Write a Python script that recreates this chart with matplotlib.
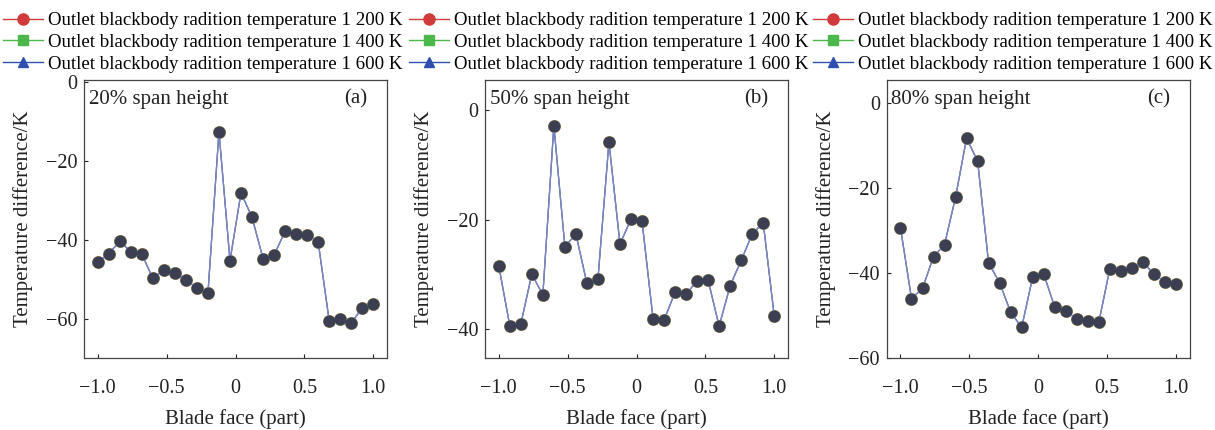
import matplotlib
matplotlib.use("Agg")
import matplotlib.pyplot as plt
from matplotlib.lines import Line2D
import numpy as np

plt.rcParams['font.family'] = ['Liberation Serif', 'DejaVu Serif']
plt.rcParams['axes.unicode_minus'] = True

blade_face = [-1.0, -0.92, -0.84, -0.76, -0.68, -0.60, -0.52, -0.44, -0.36, -0.28,
              -0.20, -0.12, -0.04, 0.04, 0.12, 0.20, 0.28, 0.36, 0.44, 0.52,
              0.60, 0.68, 0.76, 0.84, 0.92, 1.0]

span20 = [-45.7, -43.5, -40.4, -43.1, -43.7, -49.8, -47.7, -48.4, -50.3, -52.2,
          -53.5, -12.6, -45.3, -28.1, -34.3, -44.8, -43.9, -37.9, -38.5, -38.8,
          -40.5, -60.5, -60.0, -61.1, -57.4, -56.4]
span50 = [-28.4, -39.3, -39.0, -29.9, -33.7, -2.8, -24.9, -22.6, -31.6, -30.8,
          -5.8, -24.4, -19.9, -20.2, -38.0, -38.3, -33.2, -33.6, -31.1, -31.0,
          -39.4, -32.0, -27.4, -22.6, -20.5, -37.5]
span80 = [-29.3, -46.0, -43.6, -36.1, -33.3, -22.1, -8.2, -13.6, -37.6, -42.3,
          -49.2, -52.8, -40.9, -40.2, -48.0, -48.9, -50.8, -51.2, -51.6, -39.0,
          -39.5, -38.8, -37.3, -40.3, -42.0, -42.6]

series_labels = ["Outlet blackbody radition temperature 1 200 K",
                 "Outlet blackbody radition temperature 1 400 K",
                 "Outlet blackbody radition temperature 1 600 K"]
panel_titles = ["20% span height", "50% span height", "80% span height"]
panel_tags = ["(a)", "(b)", "(c)"]
yticks_list = [[0, -20, -40, -60], [0, -20, -40], [0, -20, -40, -60]]
ylims = [(-70, 0.5), (-45.2, 5.5), (-60, 5.5)]
xticks = [-1.0, -0.5, 0, 0.5, 1.0]
xtick_labels = ["\u22121.0", "\u22120.5", "0", "0.5", "1.0"]

data = [span20, span50, span80]
series_colors = ['#d03a3a', '#4cb84c', '#3050b0']
legend_markers = ['o', 's', '^']

fig = plt.figure(figsize=(12.15, 4.3), dpi=100)
lefts = [84 / 1215, 485 / 1215, 886.7 / 1215]
bottom = 1 - 358 / 430
height = (358 - 80) / 430
width = 303 / 1215

for i in range(3):
    ax = fig.add_axes([lefts[i], bottom, width, height])
    y = data[i]
    # three coincident series
    ax.plot(blade_face, y, color='#7080b8', lw=0.9, marker='o', ms=8.2,
            mfc=series_colors[0], mec=series_colors[0], zorder=2)
    ax.plot(blade_face, y, color='#7080b8', lw=0.9, marker='o', ms=7.8,
            mfc=series_colors[1], mec=series_colors[1], zorder=3)
    ax.plot(blade_face, y, color='#7a86bc', lw=0.9, marker='o', ms=7.8,
            mfc='#3e3e52', mec='#30385a', mew=0.6, zorder=4)
    ax.set_xlim(-1.1, 1.1)
    ax.set_ylim(*ylims[i])
    ax.set_xticks(xticks)
    ax.set_xticklabels(xtick_labels)
    ax.set_yticks(yticks_list[i])
    ax.set_yticklabels([("\u2212%d" % abs(t)) if t < 0 else str(t) for t in yticks_list[i]])
    ax.tick_params(direction='in', length=3, width=0.8, labelsize=14.5,
                   colors='#222222', top=False, right=False)
    ax.tick_params(axis='x', pad=15)
    ax.tick_params(axis='y', pad=5)
    for s in ax.spines.values():
        s.set_color('#444444')
        s.set_linewidth(0.9)
    ax.set_xlabel("Blade face (part)", fontsize=15, labelpad=8, color='#222222')
    ax.set_ylabel("Temperature difference/K", fontsize=15, labelpad=9, color='#222222')
    ax.text(0.015, 0.965, panel_titles[i], transform=ax.transAxes, fontsize=15,
            va='top', ha='left', color='#222222')
    ax.text(0.935, 0.965, panel_tags[i], transform=ax.transAxes, fontsize=15,
            va='top', ha='right', color='#222222')

handles = [Line2D([0], [0], color=series_colors[k], lw=1.0, marker=legend_markers[k],
                  ms=8 if k == 0 else 6.5, mfc=series_colors[k], mec=series_colors[k])
           for k in range(3)]
for j, x0 in enumerate([3, 409, 813]):
    fig.legend(handles, series_labels, loc='upper left',
               bbox_to_anchor=(x0 / 1215, 1 - 12 / 430), frameon=False,
               fontsize=13.6, handlelength=2.1, handletextpad=0.3,
               labelspacing=0.24, borderpad=0, borderaxespad=0)

fig.savefig("out.png", dpi=100)
